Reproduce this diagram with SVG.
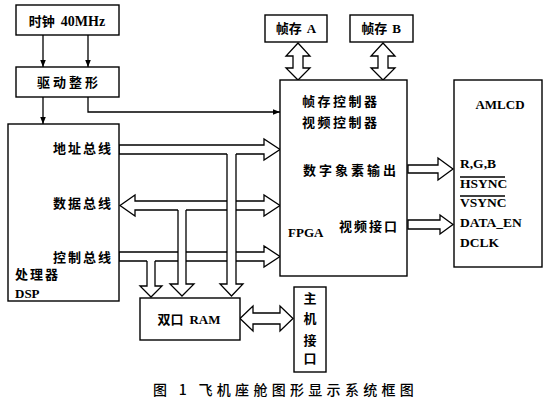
<svg xmlns="http://www.w3.org/2000/svg" width="547" height="405" viewBox="0 0 547 405">
<style>
.box{fill:#fff;stroke:#000;stroke-width:1.4}
.bus{fill:#fff;stroke:#000;stroke-width:1.3;stroke-linejoin:miter}
.ln{fill:none;stroke:#000;stroke-width:1.3}
.wf{fill:#fff;stroke:none}
text{font-family:"Liberation Serif","Noto Sans CJK SC",serif;font-size:13px;fill:#000;font-weight:bold}
.cjk{font-family:"Noto Sans CJK SC","Liberation Serif",sans-serif;font-weight:bold}
.sig{font-family:"Liberation Serif",serif;font-size:13.5px;font-weight:bold}
.cap{font-family:"Noto Sans CJK SC","Liberation Serif",sans-serif;font-size:14px;font-weight:500;letter-spacing:4.3px}
</style>
<defs>
<marker id="ah" viewBox="0 0 10 10" refX="10" refY="5" markerWidth="7" markerHeight="7" markerUnits="userSpaceOnUse" orient="auto">
<path d="M0,1 L10,5 L0,9 Z" fill="#000"/>
</marker>
</defs>
<rect width="547" height="405" fill="#fff"/>

<g id="connectors">
<line class="ln" x1="43" y1="35" x2="43" y2="67" marker-end="url(#ah)"/>
<line class="ln" x1="88" y1="35" x2="88" y2="67" marker-end="url(#ah)"/>
<line class="ln" x1="43" y1="97" x2="43" y2="124" marker-end="url(#ah)"/>
<polyline class="ln" points="88,97 88,112 280,112" marker-end="url(#ah)"/>
<polygon class="bus" points="298,43 310,56 303,56 303,68 310,68 298,80 286,68 293,68 293,56 286,56"/>
<polygon class="bus" points="383,43 395,56 388,56 388,68 395,68 383,80 371,68 378,68 378,56 371,56"/>
<polygon class="bus" points="119,145 264,145 264,139 280,149.5 264,160 264,154 119,154"/>
<polygon class="bus" points="120,205.5 135,195 135,201 264,201 264,195 280,205.5 264,216 264,210 135,210 135,216"/>
<polygon class="bus" points="119,252 264,252 264,246 280,256.5 264,267 264,261 119,261"/>
<rect class="wf" x="147" y="258" width="8" height="32"/>
<polyline class="bus" points="147,261 147,286 140,286 151,297 162,286 155,286 155,261"/>
<rect class="wf" x="178" y="207" width="8" height="80"/>
<polyline class="bus" points="178,210 178,284 170,284 182,296 194,284 186,284 186,210"/>
<rect class="wf" x="227" y="151" width="9" height="136"/>
<polyline class="bus" points="227,154 227,284 220,284 231.5,296 243,284 236,284 236,154"/>
<polygon class="bus" points="408,165 438,165 438,158 453,169 438,180 438,173 408,173"/>
<polygon class="bus" points="408,220 440,220 440,215 453,224.5 440,234 440,229 408,229"/>
<polygon class="bus" points="240,318.5 253,306 253,313 280,313 280,306 293,318.5 280,331 280,324 253,324 253,331"/>
</g>

<g id="clock">
<rect class="box" x="16" y="5" width="103" height="30"/>
<text x="67" y="26" text-anchor="middle"><tspan class="cjk">时钟</tspan><tspan dx="6" font-size="14">40MHz</tspan></text>
</g>
<g id="driver">
<rect class="box" x="16" y="67" width="103" height="30"/>
<text class="cjk" x="69" y="87" text-anchor="middle" letter-spacing="3">驱动整形</text>
</g>
<g id="dsp">
<rect class="box" x="8" y="124" width="111" height="177"/>
<text class="cjk" x="113" y="153" text-anchor="end" letter-spacing="2">地址总线</text>
<text class="cjk" x="113" y="208" text-anchor="end" letter-spacing="2">数据总线</text>
<text class="cjk" x="113" y="262" text-anchor="end" letter-spacing="2">控制总线</text>
<text class="cjk" x="15" y="279" letter-spacing="2">处理器</text>
<text x="15" y="298">DSP</text>
</g>
<g id="frameA">
<rect class="box" x="265" y="15" width="62" height="27"/>
<text x="296" y="33" text-anchor="middle"><tspan class="cjk">帧存</tspan><tspan dx="5">A</tspan></text>
</g>
<g id="frameB">
<rect class="box" x="350" y="15" width="63" height="27"/>
<text x="381" y="33" text-anchor="middle"><tspan class="cjk">帧存</tspan><tspan dx="5">B</tspan></text>
</g>
<g id="fpga">
<rect class="box" x="280" y="80" width="127" height="196"/>
<text class="cjk" x="302" y="106" letter-spacing="2.5">帧存控制器</text>
<text class="cjk" x="302" y="127" letter-spacing="2.5">视频控制器</text>
<text class="cjk" x="303" y="175" letter-spacing="3">数字象素输出</text>
<text x="288" y="237">FPGA</text>
<text class="cjk" x="339" y="231" letter-spacing="2">视频接口</text>
</g>
<g id="amlcd">
<rect class="box" x="454" y="80" width="88" height="187"/>
<text x="500" y="109" text-anchor="middle">AMLCD</text>
<text class="sig" x="460" y="168">R,G,B</text>
<text class="sig" x="460" y="188">HSYNC</text>
<line class="ln" x1="460" y1="177" x2="505" y2="177" stroke-width="1"/>
<text class="sig" x="460" y="207">VSYNC</text>
<line class="ln" x1="460" y1="196" x2="505" y2="196" stroke-width="1"/>
<text class="sig" x="460" y="227">DATA_EN</text>
<text class="sig" x="460" y="247">DCLK</text>
</g>
<g id="ram">
<rect class="box" x="140" y="298" width="100" height="42"/>
<text x="189" y="324" text-anchor="middle"><tspan class="cjk">双口</tspan><tspan dx="6">RAM</tspan></text>
</g>
<g id="host">
<rect class="box" x="294" y="287" width="32" height="85"/>
<text class="cjk" x="310" y="303" text-anchor="middle">主</text>
<text class="cjk" x="310" y="323" text-anchor="middle">机</text>
<text class="cjk" x="310" y="345" text-anchor="middle">接</text>
<text class="cjk" x="310" y="363" text-anchor="middle">口</text>
</g>
<text class="cap" x="153" y="395">图 1 飞机座舱图形显示系统框图</text>
</svg>
